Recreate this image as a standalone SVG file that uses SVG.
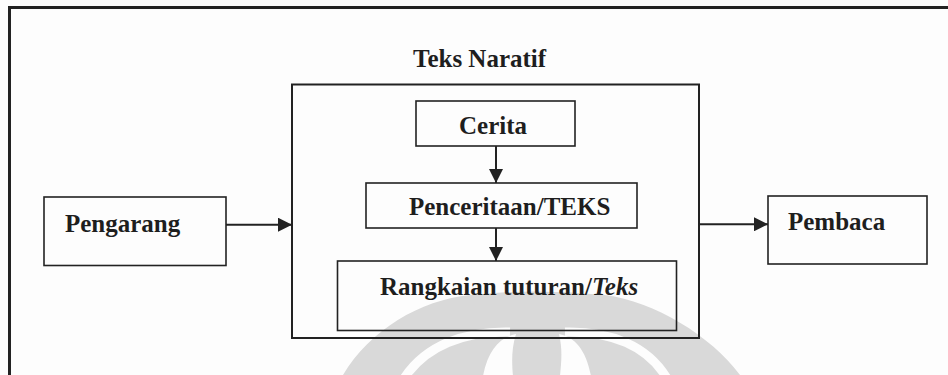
<svg xmlns="http://www.w3.org/2000/svg" width="948" height="375" viewBox="0 0 948 375">
  <defs>
    <style>
      .box { fill: none; stroke: #222; stroke-width: 1.6; }
      .outer { fill: none; stroke: #222; stroke-width: 2; }
      .lbl { font-family: "Liberation Serif", "Times New Roman", serif; font-weight: bold; font-size: 25px; fill: #1e1e1e; }
      .conn { stroke: #222; stroke-width: 2; fill: none; marker-end: url(#ah); }
      .wm { fill: #d9d9d9; }
      .wmw { fill: #fdfdfd; }
    </style>
    <marker id="ah" markerUnits="userSpaceOnUse" markerWidth="14" markerHeight="14" refX="14" refY="7" orient="auto">
      <path d="M0,0 L14,7 L0,14 Z" fill="#222"/>
    </marker>
  </defs>
  <rect width="948" height="375" fill="#fdfdfd"/>

  <g id="watermark">
    <path class="wm" d="M343,375 C370,330 420,300 470,295 Q537,288 605,295 C655,302 710,335 740,375 Z"/>
    <path d="M403,380 C425,345 465,331 510,332" stroke="#fdfdfd" stroke-width="9" fill="none"/>
    <path d="M668,380 C648,345 610,331 565,332" stroke="#fdfdfd" stroke-width="9" fill="none"/>
    <path class="wmw" d="M483,376 C488,350 500,337 516,334 C511,350 512,365 513,376 Z"/>
    <path class="wmw" d="M591,376 C586,350 575,337 559,334 C563,350 561,365 560,376 Z"/>
  </g>

  <g id="frame">
    <path d="M9.5,375 V7.5 H948" fill="none" stroke="#222" stroke-width="3"/>
  </g>

  <g id="teks-naratif">
    <rect class="outer" x="292" y="84.5" width="407" height="253.5"/>
    <text class="lbl" x="413" y="67">Teks Naratif</text>
  </g>

  <g id="cerita">
    <rect class="box" x="416" y="101" width="159" height="45"/>
    <text class="lbl" x="459" y="134">Cerita</text>
  </g>

  <g id="penceritaan">
    <rect class="box" x="366" y="183" width="271" height="45"/>
    <text class="lbl" x="409" y="215">Penceritaan/TEKS</text>
  </g>

  <g id="rangkaian">
    <rect class="box" x="337.5" y="261" width="339" height="69.5"/>
    <text class="lbl" x="380" y="295">Rangkaian tuturan/<tspan font-style="italic">Teks</tspan></text>
  </g>

  <g id="pengarang">
    <rect class="box" x="44" y="197" width="182" height="68.5"/>
    <text class="lbl" x="65" y="232">Pengarang</text>
  </g>

  <g id="pembaca">
    <rect class="box" x="768" y="196" width="159" height="68"/>
    <text class="lbl" x="788" y="230">Pembaca</text>
  </g>

  <g id="connectors">
    <line class="conn" x1="496" y1="146" x2="496" y2="183"/>
    <line class="conn" x1="496" y1="228" x2="496" y2="261"/>
    <line class="conn" x1="226" y1="224.7" x2="292" y2="224.7"/>
    <line class="conn" x1="699" y1="224.3" x2="768" y2="224.3"/>
  </g>
</svg>
